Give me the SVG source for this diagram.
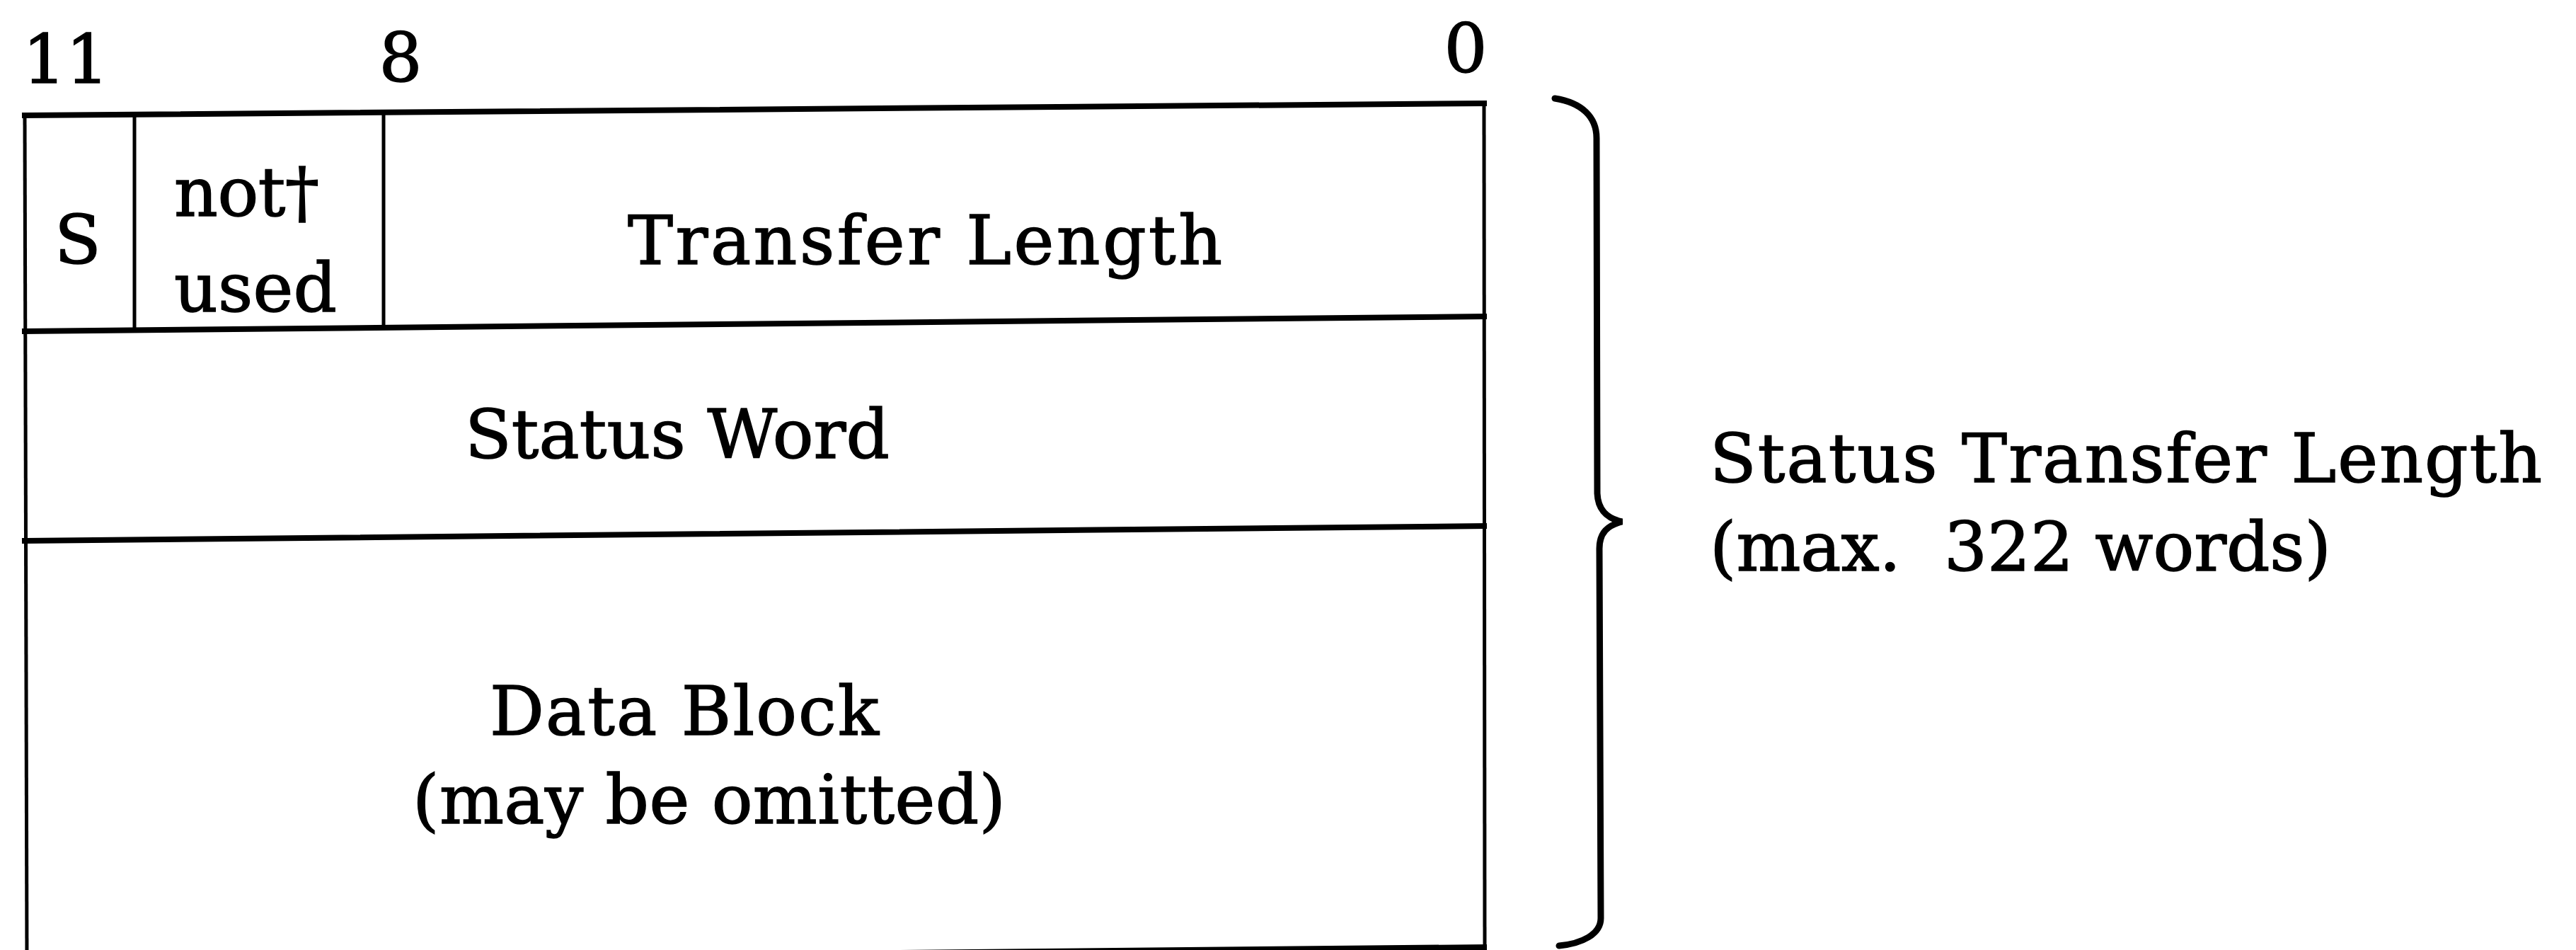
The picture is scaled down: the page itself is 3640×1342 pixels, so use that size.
<svg xmlns="http://www.w3.org/2000/svg" width="3640" height="1342" viewBox="0 0 3640 1342">
<style>
.t{font-family:"DejaVu Serif","Liberation Serif",serif;fill:#000;font-size:96px;stroke:#000;stroke-width:1.5}
.h{stroke:#000;stroke-width:8;fill:none;stroke-linecap:square}
.v{stroke:#000;stroke-width:5;fill:none}
.b{stroke:#000;stroke-width:9;fill:none;stroke-linecap:round;stroke-linejoin:miter}
</style>
<rect width="3640" height="1342" fill="#fff"/>
<g id="bit-labels">
<text class="t" x="93" y="117" text-anchor="middle" font-size="90">11</text>
<text class="t" x="566" y="115" text-anchor="middle" font-size="90">8</text>
<text class="t" x="2071" y="102" text-anchor="middle" font-size="90">0</text>
</g>
<g id="connectors">
<line class="h" x1="35" y1="163" x2="2097" y2="146"/>
<line class="h" x1="35" y1="468" x2="2097" y2="447"/>
<line class="h" x1="35" y1="764" x2="2097" y2="743"/>
<line class="h" x1="35" y1="1358" x2="2097" y2="1338"/>
<line class="v" x1="35" y1="163" x2="38" y2="1360"/>
<line class="v" x1="2097" y1="146" x2="2098" y2="1338"/>
<line class="v" x1="190" y1="162" x2="190" y2="467"/>
<line class="v" x1="542" y1="158" x2="542" y2="464"/>
</g>
<g id="node-s">
<text class="t" x="110" y="372" text-anchor="middle" font-size="99">S</text>
</g>
<g id="node-not-used">
<text class="t" x="246" y="305" font-size="96" textLength="205">not†</text>
<text class="t" x="246" y="440" font-size="96" textLength="230">used</text>
</g>
<g id="node-transfer-length">
<text class="t" x="1307" y="373" text-anchor="middle" font-size="96" textLength="840">Transfer Length</text>
</g>
<g id="node-status-word">
<text class="t" x="957" y="647" text-anchor="middle" font-size="95" textLength="600">Status Word</text>
</g>
<g id="node-data-block">
<text class="t" x="967" y="1038" text-anchor="middle" font-size="95" textLength="550">Data Block</text>
<text class="t" x="1002" y="1163" text-anchor="middle" font-size="95" textLength="838">(may be omitted)</text>
</g>
<g id="brace">
<path class="b" d="M 2197 139 C 2235 145, 2256 165, 2256 195 L 2257 697 C 2258 720, 2270 732, 2292 737 C 2272 742, 2260 752, 2260 775 L 2262 1297 C 2262 1320, 2235 1333, 2203 1336"/>
</g>
<g id="node-status-transfer-length">
<text class="t" x="2416" y="681" font-size="100" textLength="1176">Status Transfer Length</text>
<text class="t" x="2416" y="806" font-size="100" textLength="878" xml:space="preserve">(max.  322 words)</text>
</g>
</svg>
